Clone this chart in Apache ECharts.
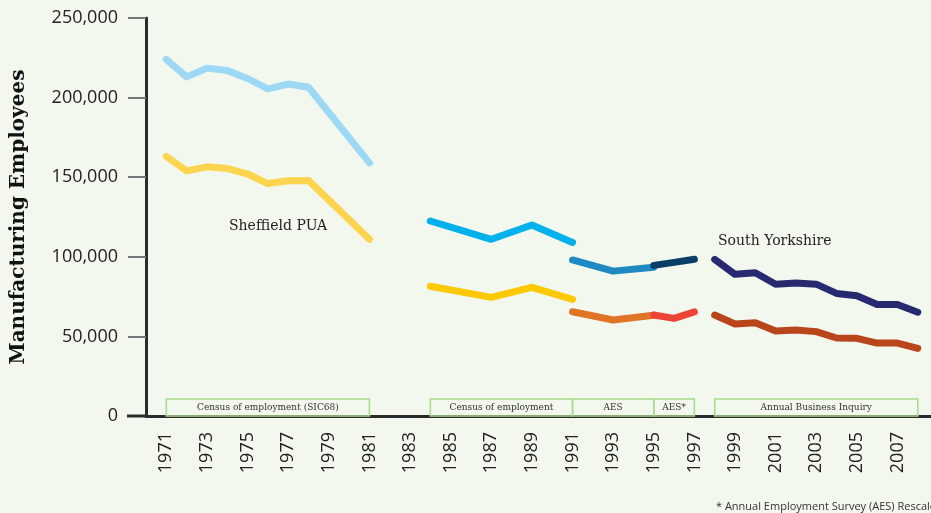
<!DOCTYPE html>
<html>
<head>
<meta charset="utf-8">
<script src="https://cdn.jsdelivr.net/npm/echarts@6/dist/echarts.min.js"></script>
<style>
  html, body { margin: 0; padding: 0; background: #f3f8ee; }
  #main { width: 931px; height: 513px; }
</style>
</head>
<body>
<div id="main"></div>
<script>
// years shown as tick labels (odd years only)
var tickYears = [1971, 1973, 1975, 1977, 1979, 1981, 1983, 1985, 1987, 1989, 1991, 1993, 1995, 1997, 1999, 2001, 2003, 2005, 2007];

// Census of employment (SIC68)
var census1Years = [1971, 1972, 1973, 1974, 1975, 1976, 1977, 1978, 1981];
var census1Upper = [224000, 213000, 218500, 217000, 212000, 205500, 208500, 206500, 159000];
var census1Lower = [163000, 154000, 156500, 155500, 152000, 146000, 147800, 148000, 111000];

// Census of employment
var census2Years = [1984, 1987, 1989, 1991];
var census2Upper = [122500, 111000, 120000, 109000];
var census2Lower = [81500, 74500, 80800, 73300];

// AES
var aesYears = [1991, 1993, 1995];
var aesUpper = [98000, 91000, 93500];
var aesLower = [65500, 60300, 63300];

// AES* (rescaled)
var aesStarYears = [1995, 1996, 1997];
var aesStarUpper = [94600, 96500, 98500];
var aesStarLower = [63400, 61300, 65400];

// Annual Business Inquiry
var abiYears = [1998, 1999, 2000, 2001, 2002, 2003, 2004, 2005, 2006, 2007, 2008];
var abiUpper = [98400, 89000, 90000, 82800, 83500, 82800, 77000, 75500, 70000, 70000, 65200];
var abiLower = [63400, 57800, 58600, 53400, 54000, 53000, 49000, 48800, 45800, 45800, 42500];

// source bands along the x axis
var bandNames = ['Census of employment (SIC68)', 'Census of employment', 'AES', 'AES*', 'Annual Business Inquiry'];
var bandFrom = [1971, 1984, 1991, 1995, 1998];
var bandTo = [1981, 1991, 1995, 1997, 2008];

function pairs(xs, ys) {
    return xs.map(function (x, i) { return [x, ys[i]]; });
}

function seg(name, xs, ys, color) {
    return {
        name: name,
        type: 'line',
        data: pairs(xs, ys),
        symbol: 'none',
        silent: true,
        lineStyle: { width: 7, color: color, cap: 'round', join: 'round' }
    };
}

var bandData = bandNames.map(function (n, i) {
    return [
        { name: n, xAxis: bandFrom[i], yAxis: 0 },
        { xAxis: bandTo[i], yAxis: 10700 }
    ];
});

var series = [
    seg('Census SIC68 upper', census1Years, census1Upper, '#9dd9f4'),
    seg('Census SIC68 lower', census1Years, census1Lower, '#fdd44f'),
    seg('Census upper', census2Years, census2Upper, '#00b1ec'),
    seg('Census lower', census2Years, census2Lower, '#fcc900'),
    seg('AES upper', aesYears, aesUpper, '#1f8ac2'),
    seg('AES lower', aesYears, aesLower, '#e07427'),
    seg('AES* upper', aesStarYears, aesStarUpper, '#0a3e66'),
    seg('AES* lower', aesStarYears, aesStarLower, '#ee4437'),
    seg('ABI upper', abiYears, abiUpper, '#272a70'),
    seg('ABI lower', abiYears, abiLower, '#b9461b'),
    {
        name: 'bands',
        type: 'line',
        data: [],
        silent: true,
        markArea: {
            silent: true,
            itemStyle: { color: 'rgba(0,0,0,0)', borderColor: '#a9d98b', borderWidth: 1.5 },
            label: {
                show: true,
                position: 'inside',
                color: '#333',
                fontFamily: 'DejaVu Serif',
                fontSize: 9
            },
            data: bandData
        }
    }
];

var option = {
    backgroundColor: '#f3f8ee',
    animation: false,
    grid: { left: 146, right: 0, top: 18, bottom: 97 },
    xAxis: {
        type: 'value',
        min: 1970,
        max: 2008.65,
        interval: 1,
        splitLine: { show: false },
        axisTick: { show: false },
        axisLine: { show: true, lineStyle: { color: '#2b2b2b', width: 3 } },
        axisLabel: {
            rotate: 90,
            margin: 16,
            color: '#222',
            fontFamily: 'Open Sans',
            fontSize: 18,
            showMaxLabel: false,
            formatter: function (v) {
                return tickYears.indexOf(v) >= 0 ? String(v) : '';
            }
        }
    },
    yAxis: {
        type: 'value',
        min: 0,
        max: 250000,
        interval: 50000,
        name: 'Manufacturing Employees',
        nameLocation: 'middle',
        nameGap: 117,
        nameTextStyle: { fontFamily: 'DejaVu Serif', fontWeight: 'bold', fontSize: 20, color: '#111' },
        splitLine: { show: false },
        axisLine: { show: true, lineStyle: { color: '#2b2b2b', width: 3 } },
        axisTick: { show: true, length: 18, lineStyle: { color: '#777', width: 2 } },
        axisLabel: {
            margin: 28,
            color: '#222',
            fontFamily: 'Open Sans',
            fontSize: 18,
            formatter: function (v) { return v.toLocaleString('en-US'); }
        }
    },
    graphic: [
        // x axis line continues left past the y axis
        { type: 'line', shape: { x1: 127, y1: 416, x2: 147, y2: 416 }, style: { stroke: '#2b2b2b', lineWidth: 3 }, z: 10 },
        { type: 'text', left: 229, top: 219, style: { text: 'Sheffield PUA', font: '14px "DejaVu Serif"', fill: '#222' } },
        { type: 'text', left: 718, top: 234, style: { text: 'South Yorkshire', font: '14px "DejaVu Serif"', fill: '#222' } },
        { type: 'text', left: 716, top: 501, style: { text: '* Annual Employment Survey (AES) Rescaled', font: '11px "Open Sans"', fill: '#333' } }
    ],
    series: series
};

var myChart = echarts.init(document.getElementById('main'));
myChart.setOption(option);
</script>
</body>
</html>
